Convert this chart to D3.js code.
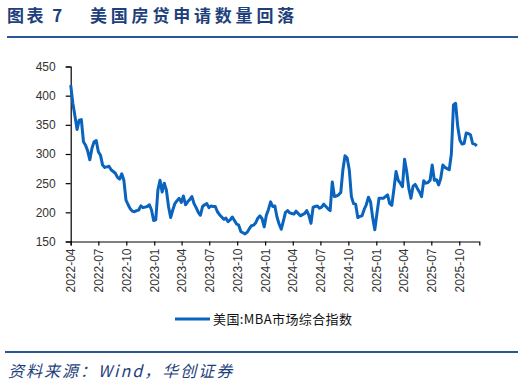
<!DOCTYPE html>
<html>
<head>
<meta charset="utf-8">
<script src="https://cdn.jsdelivr.net/npm/d3@7"></script>
<style>
  body { margin: 0; background: #fff; }
  svg { display: block; }
</style>
</head>
<body>
<svg width="524" height="387"></svg>
<script>
// ---- Dados (semanal, MBA 市场综合指数)
const firstWeek = '2022-04-01';
const mbaValues = [
  418, 387, 365, 342, 358, 359, 321, 315, 305, 290,
  310, 321, 323, 304, 298, 281, 277, 278, 279, 273,
  270, 267, 260, 257, 266, 255, 221, 213, 206, 202,
  201, 203, 204, 211, 208, 209, 210, 213, 204, 186,
  187, 238, 255, 235, 250, 238, 210, 191, 204, 215,
  220, 224, 217, 228, 213, 218, 222, 227, 215, 208,
  200, 195, 210, 213, 215, 208, 211, 210, 210, 201,
  196, 192, 188, 190, 184, 187, 192, 186, 180, 178,
  167, 165, 163, 166, 172, 177, 178, 182, 190, 194,
  189, 175, 195, 205, 218, 210, 211, 192, 180, 171,
  185, 200, 203, 199, 198, 197, 202, 198, 194, 196,
  198, 203, 195, 181, 209, 210, 211, 207, 209, 214,
  210, 206, 203, 252, 227, 228, 230, 234, 273, 297,
  293, 273, 227, 215, 214, 191, 193, 194, 205, 213,
  226, 218, 191, 170, 198, 224, 224, 224, 227, 230,
  215, 212, 240, 270, 255, 250, 244, 291, 270, 241,
  224, 245, 248, 241, 235, 227, 254, 250, 251, 255,
  281, 255, 256, 247, 258, 281, 277, 275, 273, 300,
  384, 387, 347, 324, 317, 318, 336, 335, 333, 318,
  317, 314
];
const xTickLabels = ['2022-04', '2022-07', '2022-10', '2023-01', '2023-04', '2023-07', '2023-10',
  '2024-01', '2024-04', '2024-07', '2024-10', '2025-01', '2025-04', '2025-07', '2025-10'];
const yTicks = [150, 200, 250, 300, 350, 400, 450];
const seriesName = '美国:MBA市场综合指数';

const parseDay = d3.utcParse('%Y-%m-%d');
const parseMonth = d3.utcParse('%Y-%m');
const start = parseDay(firstWeek);
const data = mbaValues.map((v, i) => ({ date: d3.utcWeek.offset(start, i), value: v }));

const svg = d3.select('svg');
const blue = '#0a64bd';
const navy = '#1e3f7c';

// ---- Título
svg.append('text')
  .attr('x', 7).attr('y', 22)
  .attr('font-family', '"Noto Sans CJK SC", sans-serif')
  .attr('font-size', 17).attr('font-weight', 'bold')
  .attr('fill', navy)
  .attr('letter-spacing', 2.5)
  .text('图表 7');
svg.append('text')
  .attr('x', 90).attr('y', 22)
  .attr('font-family', '"Noto Sans CJK SC", sans-serif')
  .attr('font-size', 17).attr('font-weight', 'bold')
  .attr('fill', navy)
  .attr('letter-spacing', 3.8)
  .text('美国房贷申请数量回落');
svg.append('line')
  .attr('x1', 7).attr('x2', 518).attr('y1', 37).attr('y2', 37)
  .attr('stroke', '#2a5596').attr('stroke-width', 2);

// ---- Escalas
const x = d3.scaleUtc()
  .domain([start, parseDay('2025-12-06')])
  .range([70.7, 479.3]);
const y = d3.scaleLinear().domain([150, 450]).range([241.5, 66.5]);

// ---- Eixos
const xAxis = d3.axisBottom(x)
  .tickValues(xTickLabels.map(parseMonth))
  .tickFormat(d3.utcFormat('%Y-%m'))
  .tickSizeOuter(0).tickSize(4);
const gx = svg.append('g')
  .attr('transform', `translate(0,${y(150)})`)
  .call(xAxis);
gx.selectAll('text')
  .attr('transform', 'rotate(-90)')
  .attr('text-anchor', 'end')
  .attr('x', -7).attr('y', 0).attr('dy', '0.35em');

const yAxis = d3.axisLeft(y).tickValues(yTicks).tickSizeOuter(0).tickSize(5).tickPadding(10);
const gy = svg.append('g')
  .attr('transform', `translate(${x.range()[0]},0)`)
  .call(yAxis);

[gx, gy].forEach(g => {
  g.selectAll('text')
    .attr('font-family', '"Liberation Sans", Arial, sans-serif')
    .attr('font-size', 12).attr('fill', '#333');
  g.selectAll('line, path').attr('stroke', '#000').attr('stroke-width', 1.2);
});

// ---- Linha
const line = d3.line().x(d => x(d.date)).y(d => y(d.value)).curve(d3.curveLinear);
svg.append('path')
  .datum(data)
  .attr('d', line)
  .attr('fill', 'none')
  .attr('stroke', blue)
  .attr('stroke-width', 3)
  .attr('stroke-linejoin', 'round');

// ---- Legenda
svg.append('line')
  .attr('x1', 175).attr('x2', 210).attr('y1', 319).attr('y2', 319)
  .attr('stroke', blue).attr('stroke-width', 3);
svg.append('text')
  .attr('x', 213).attr('y', 324)
  .attr('font-family', '"Noto Sans CJK SC", sans-serif')
  .attr('font-size', 13).attr('fill', '#111')
  .attr('letter-spacing', 0.4)
  .text(seriesName);

// ---- Fonte
svg.append('line')
  .attr('x1', 5).attr('x2', 518).attr('y1', 352).attr('y2', 352)
  .attr('stroke', '#2a5596').attr('stroke-width', 2);
svg.append('text')
  .attr('x', 8).attr('y', 377)
  .attr('font-family', '"Noto Sans CJK SC", sans-serif')
  .attr('font-size', 16).attr('font-style', 'italic')
  .attr('fill', navy)
  .attr('letter-spacing', 2)
  .text('资料来源：Wind，华创证券');
</script>
</body>
</html>
